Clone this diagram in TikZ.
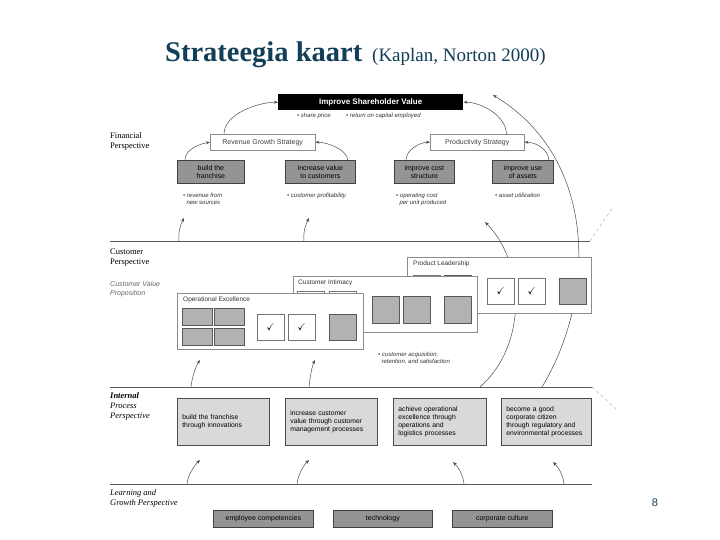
\documentclass[tikz,border=0pt]{standalone}
\usepackage{amssymb}
\usepackage{fontspec}
\setmainfont{Liberation Serif}
\setsansfont{Liberation Sans}
\usetikzlibrary{arrows.meta}
\definecolor{titleblue}{RGB}{18,62,88}

\begin{document}
\begin{tikzpicture}[x=1pt,y=-1pt,
  obj/.style={draw=black!75,fill=black!42,line width=0.7pt,minimum height=23,inner sep=1pt,align=center,anchor=north west,font=\sffamily\fontsize{7}{8}\selectfont},
  strat/.style={draw=black!45,fill=white,minimum height=16,inner sep=1pt,anchor=north west,font=\sffamily\fontsize{7}{8}\selectfont,text=black!75},
  note/.style={anchor=north west,inner sep=0pt,align=left,font=\sffamily\itshape\fontsize{6}{7}\selectfont,text=black!80},
  persp/.style={anchor=north west,inner sep=0pt,align=left,font=\fontsize{8.5}{10}\selectfont},
  panel/.style={draw=black!45,fill=white,anchor=north west,inner sep=0pt},
  ptitle/.style={anchor=north west,inner sep=0pt,font=\sffamily\fontsize{6.5}{7}\selectfont,text=black!80},
  sq/.style={draw=black!65,fill=black!30,anchor=north west,inner sep=0pt},
  chk/.style={draw=black!55,fill=white,anchor=north west,inner sep=0pt},
  proc/.style={draw=black!70,fill=black!15,line width=0.7pt,minimum height=47,inner xsep=5pt,inner ysep=2pt,align=left,anchor=north west,font=\sffamily\fontsize{6.8}{7.8}\selectfont},
  lg/.style={draw=black!75,fill=black!42,line width=0.7pt,minimum height=17,inner sep=1pt,anchor=north west,font=\sffamily\fontsize{7}{8}\selectfont},
  sep/.style={draw=black!65,line width=0.6pt},
  arr/.style={draw=black!70,line width=0.5pt,-{Stealth[length=4pt,width=3pt]}},
  faint/.style={draw=black!22,dashed,line width=0.8pt}]
\useasboundingbox[fill=white] (0,0) rectangle (720,540);
\newcommand{\ck}{$\checkmark$}

% title
\node[anchor=base west,inner sep=0pt,text=titleblue,font=\bfseries\fontsize{28.5}{30}\selectfont] (ttl) at (165,62) {Strateegia kaart};
\node[anchor=base west,inner sep=0pt,text=titleblue,font=\fontsize{19}{21}\selectfont] (src) at (372,62) {(Kaplan, Norton 2000)};
\node[text=titleblue,font=\sffamily\fontsize{11}{12}\selectfont] (pg) at (655,503) {8};

% perspective lines
\draw[sep] (110,241) coordinate (cl) -- (590,241) coordinate (cr);
\draw[sep] (110,387) coordinate (il) -- (592,387) coordinate (ir);
\draw[sep] (110,484) coordinate (ll) -- (592,484) coordinate (lr);
\draw[faint] (cr) -- +(23,-34);
\draw[faint] (ir) -- +(25,23);

% perspective labels
\node[persp] (finl) at (110,132) {Financial\\Perspective};
\node[persp] (cusl) at (110,249) {Customer\\Perspective};
\node[persp,font=\sffamily\itshape\fontsize{7}{9}\selectfont,text=black!60] (cvpl) at (110,281) {Customer Value\\Proposition};
\node[persp,font=\itshape\fontsize{8.5}{10}\selectfont] (ipl) at (110,392) {\textbf{Internal}\\Process\\Perspective};
\node[persp,font=\itshape\fontsize{8.5}{10}\selectfont] (lgl) at (110,489) {Learning and\\Growth Perspective};

% financial
\node[anchor=north west,fill=black,text=white,font=\sffamily\bfseries\fontsize{8}{9}\selectfont,minimum width=185,minimum height=16,inner sep=0pt] (isv) at (278,94) {Improve Shareholder Value};
\node[note] (isvn1) at (297,113) {\textbullet\ share price};
\node[note] (isvn2) at (346,113) {\textbullet\ return on capital employed};
\node[strat,minimum width=105] (rgs) at (210,134) {Revenue Growth Strategy};
\node[strat,minimum width=94] (ps) at (430,134) {Productivity Strategy};
\node[obj,minimum width=67] (bf) at (177,160) {build the\\franchise};
\node[obj,minimum width=70] (iv) at (285,160) {increase value\\to customers};
\node[obj,minimum width=60] (ic) at (394,160) {improve cost\\structure};
\node[obj,minimum width=61] (iu) at (492,160) {improve use\\of assets};
\node[note] (bfn) at (183,193) {\textbullet\ revenue from\\\ \ new sources};
\node[note] (ivn) at (287,193) {\textbullet\ customer profitability};
\node[note] (icn) at (396,193) {\textbullet\ operating cost\\\ \ per unit produced};
\node[note] (iun) at (495,193) {\textbullet\ asset utilization};
\draw[arr] ([xshift=8pt]bf.north west) .. controls +(0,-10) and +(-12,2) .. (rgs.west);
\draw[arr] ([xshift=-8pt]iv.north east) .. controls +(0,-10) and +(12,0) .. (rgs.east);
\draw[arr] ([xshift=14pt]rgs.north west) .. controls +(0,-20) and +(-20,0) .. (isv.west);
\draw[arr] ([xshift=12pt]ic.north west) .. controls +(0,-10) and +(-10,0) .. (ps.west);
\draw[arr] ([xshift=-5pt]iu.north east) .. controls +(0,-10) and +(12,0) .. (ps.east);
\draw[arr] ([xshift=-18pt]ps.north east) .. controls +(0,-18) and +(18,0) .. (isv.east);

% customer -> financial
\coordinate (c1) at (179,241); \coordinate (f1) at (184,218);
\coordinate (c2) at (304,241); \coordinate (f2) at (309,218);
\draw[arr] (c1) .. controls +(-1,-10) and +(-3,6) .. (f1);
\draw[arr] (c2) .. controls +(-1,-10) and +(-3,6) .. (f2);

% long arcs (run behind the panels)
\coordinate (ip3) at (542,387); \coordinate (top1) at (493,95);
\coordinate (ip4) at (480,387); \coordinate (top2) at (485,222);
\draw[arr] (ip3) .. controls (595,300) and (600,160) .. (top1);
\draw[arr] (ip4) .. controls (528,345) and (525,262) .. (top2);

% customer value proposition panels, back to front
\node[panel,minimum width=184,minimum height=56] (pl) at (407,257) {};
\node[ptitle] (plt) at (413,261) {Product Leadership};
\foreach \nm/\sty/\px/\py/\txt in {pla/chk/413/275/{},plb/sq/444/275/{},plc/chk/487/278/\ck,pld/chk/518/278/\ck,ple/sq/559/278/{}}
  \node[\sty,minimum width=27,minimum height=26] (\nm) at (\px,\py) {\txt};
\node[panel,minimum width=184,minimum height=56] (ci) at (293,276) {};
\node[ptitle] (cit) at (298,280) {Customer Intimacy};
\foreach \nm/\sty/\px/\py in {cia/chk/297/291,cib/chk/329/291,cic/sq/372/296,cid/sq/403/296,cie/sq/444/296}
  \node[\sty,minimum width=27,minimum height=27] (\nm) at (\px,\py) {};
\node[panel,minimum width=186,minimum height=56] (oe) at (177,293) {};
\node[ptitle] (oet) at (183,297) {Operational Excellence};
\foreach \nm/\px/\py in {oea/182/308,oeb/214/308,oec/182/328,oed/214/328}
  \node[sq,minimum width=30,minimum height=17] (\nm) at (\px,\py) {};
\foreach \nm/\sty/\px/\txt in {oee/chk/257/\ck,oef/chk/288/\ck,oeg/sq/329/{}}
  \node[\sty,minimum width=27,minimum height=26] (\nm) at (\px,314) {\txt};
\node[note] (cvpn) at (378,352) {\textbullet\ customer acquisition,\\\ \ retention, and satisfaction};

% internal -> customer
\coordinate (i1) at (191,387); \coordinate (v1) at (200,360);
\coordinate (i2) at (309,387); \coordinate (v2) at (315,360);
\draw[arr] (i1) .. controls +(1,-10) and +(-4,6) .. (v1);
\draw[arr] (i2) .. controls +(1,-10) and +(-3,6) .. (v2);

% internal process
\node[proc,text width=82] (p1) at (177,398) {build the franchise\\through innovations};
\node[proc,text width=82] (p2) at (285,398) {increase customer\\value through customer\\management processes};
\node[proc,text width=83] (p3) at (393,398) {achieve operational\\excellence through\\operations and\\logistics processes};
\node[proc,text width=80] (p4) at (501,398) {become a good\\corporate citizen\\through regulatory and\\environmental processes};

% learning -> internal
\coordinate (l1) at (187,484); \coordinate (j1) at (200,460);
\coordinate (l2) at (297,484); \coordinate (j2) at (309,460);
\coordinate (l3) at (464,484); \coordinate (j3) at (453,462);
\coordinate (l4) at (564,484); \coordinate (j4) at (553,462);
\draw[arr] (l1) .. controls +(1,-10) and +(-5,5) .. (j1);
\draw[arr] (l2) .. controls +(1,-10) and +(-5,5) .. (j2);
\draw[arr] (l3) .. controls +(-1,-10) and +(5,5) .. (j3);
\draw[arr] (l4) .. controls +(-1,-10) and +(5,5) .. (j4);

% learning and growth
\node[lg,minimum width=100] (ec) at (213,510) {employee competencies};
\node[lg,minimum width=99] (tech) at (333,510) {technology};
\node[lg,minimum width=100] (cc) at (452,510) {corporate culture};
\end{tikzpicture}
\end{document}
